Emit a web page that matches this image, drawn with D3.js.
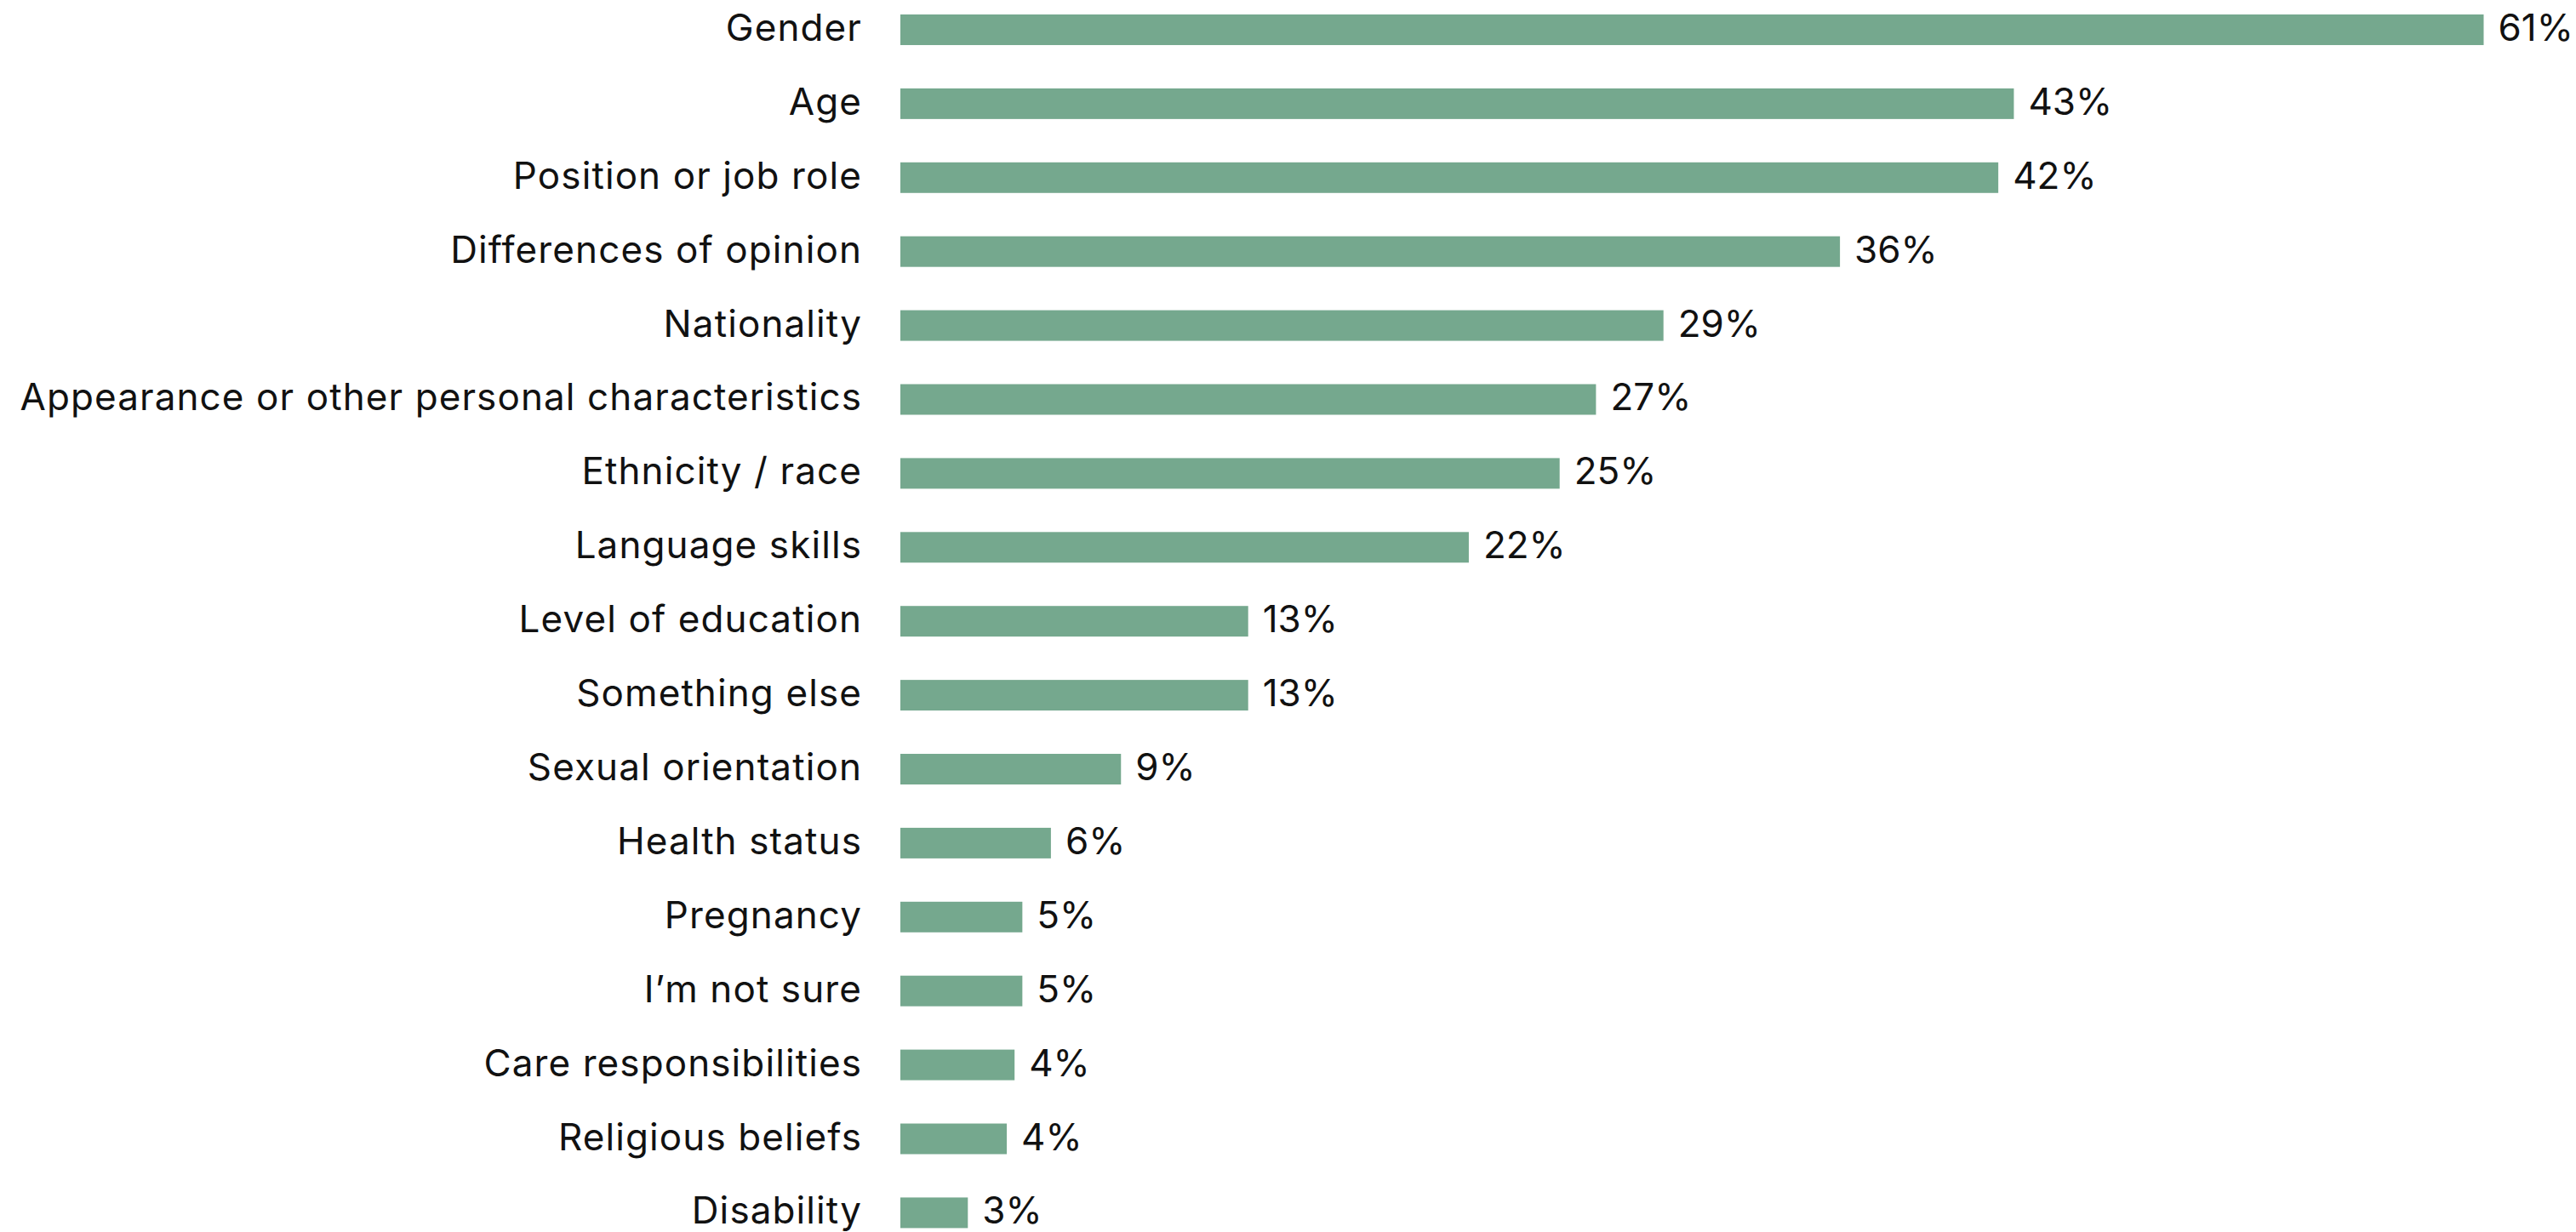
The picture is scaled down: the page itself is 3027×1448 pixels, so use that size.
<!DOCTYPE html>
<html>
<head>
<meta charset="utf-8">
<script src="https://cdn.jsdelivr.net/npm/d3@7"></script>
<style>
  html, body { margin: 0; padding: 0; background: #ffffff; }
  svg { display: block; }
  text { font-family: Inter, "Noto Sans", sans-serif; fill: #111111; }
</style>
</head>
<body>
<svg id="chart" width="3027" height="1448"></svg>
<script>
const categories = [
  "Gender", "Age", "Position or job role", "Differences of opinion", "Nationality",
  "Appearance or other personal characteristics", "Ethnicity / race", "Language skills",
  "Level of education", "Something else", "Sexual orientation", "Health status",
  "Pregnancy", "I\u2019m not sure", "Care responsibilities", "Religious beliefs", "Disability"
];
const values = [61.0, 42.9, 42.3, 36.2, 29.4, 26.8, 25.4, 21.9, 13.4, 13.4, 8.5, 5.8, 4.7, 4.7, 4.4, 4.1, 2.6];
const valueLabels = ["61%", "43%", "42%", "36%", "29%", "27%", "25%", "22%", "13%", "13%", "9%", "6%", "5%", "5%", "4%", "4%", "3%"];

const data = categories.map((c, i) => ({ cat: c, value: values[i], label: valueLabels[i] }));

const svg = d3.select("#chart");
const x0 = 1058, pxPerPct = 30.5;
const x = d3.scaleLinear().domain([0, 100]).range([x0, x0 + 100 * pxPerPct]);
const y = d3.scaleBand().domain(categories).range([17, 1443.4]).paddingInner(0.586).paddingOuter(0);

const fontSize = 44;
const barColor = "#75a88e";

svg.append("g").selectAll("rect").data(data).join("rect")
  .attr("x", x(0))
  .attr("y", d => y(d.cat))
  .attr("width", d => x(d.value) - x(0))
  .attr("height", y.bandwidth())
  .attr("fill", barColor);

svg.append("g").selectAll("text").data(data).join("text")
  .attr("x", x(0) - 45)
  .attr("y", d => y(d.cat) + y.bandwidth() / 2 + 13)
  .attr("text-anchor", "end")
  .attr("font-size", fontSize)
  .attr("letter-spacing", "1.1px")
  .text(d => d.cat);

svg.append("g").selectAll("text").data(data).join("text")
  .attr("x", d => x(d.value) + 17)
  .attr("y", d => y(d.cat) + y.bandwidth() / 2 + 13)
  .attr("text-anchor", "start")
  .attr("font-size", fontSize)
  .text(d => d.label);
</script>
</body>
</html>
